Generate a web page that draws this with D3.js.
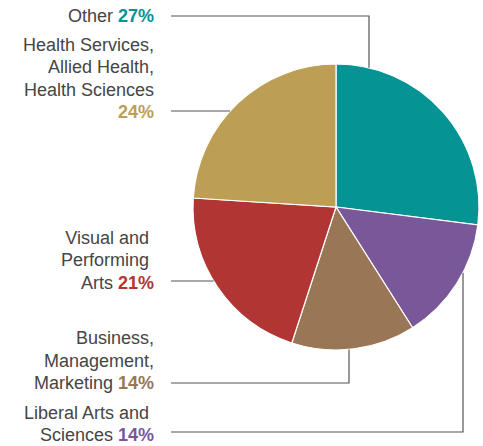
<!DOCTYPE html>
<html lang="en">
<head>
    <script src="https://d3js.org/d3.v7.min.js"></script>
    <title>Pie chart</title>
    <style>
        body { margin: 0; background: #fff; }
        text { font-family: "Liberation Sans", Arial, sans-serif; font-size: 18px; fill: #454545; white-space: pre; }
        .pct { font-weight: bold; }
    </style>
</head>
<body>
    <svg width="483" height="446"></svg>
    <script>
        // slices, clockwise from 12 o'clock
        var labels = [
            ["Other"],
            ["Liberal Arts and ", "Sciences"],
            ["Business,", "Management,", "Marketing"],
            ["Visual and ", "Performing ", "Arts"],
            ["Health Services,", "Allied Health,", "Health Sciences", ""]
        ];
        var values = [27, 14, 14, 21, 24];
        var colors = ["#059393", "#795799", "#997655", "#b03533", "#bd9e55"];

        var svg = d3.select("svg");
        var cx = 336, cy = 207, r = 143;

        var pie = d3.pie().sort(null).value(function (d) { return d; });
        var arc = d3.arc().innerRadius(0).outerRadius(r);
        var arcs = pie(values);

        var g = svg.append("g").attr("transform", "translate(" + cx + "," + cy + ")");
        g.selectAll("path")
            .data(arcs)
            .enter()
            .append("path")
            .attr("d", arc)
            .style("fill", function (d, i) { return colors[i]; })
            .style("stroke", "#fff")
            .style("stroke-width", 1.2);

        // label blocks: baseline of the last line, leader line y, where the line bends
        var textX = 154, lineH = 22.3;
        var layout = [
            { last: 22, ly: 16, bendX: 369 },
            { last: 441, ly: 432, bendX: 463 },
            { last: 389, ly: 383, bendX: 349 },
            { last: 288.5, ly: 281 },
            { last: 118, ly: 111 }
        ];

        // leader lines
        layout.forEach(function (L, i) {
            var pts;
            if (L.bendX !== undefined) {
                var dx = L.bendX - cx;
                var dy = Math.sqrt(r * r - dx * dx);
                var yEdge = L.ly < cy ? cy - dy : cy + dy;
                pts = [[textX + 17, L.ly], [L.bendX, L.ly], [L.bendX, yEdge]];
            } else {
                var ddy = L.ly - cy;
                var xEdge = cx - Math.sqrt(r * r - ddy * ddy);
                pts = [[textX + 17, L.ly], [xEdge, L.ly]];
            }
            svg.append("path")
                .attr("d", d3.line()(pts))
                .style("fill", "none")
                .style("stroke", "#555")
                .style("stroke-width", 1.2);
        });

        // label text
        labels.forEach(function (lines, i) {
            var L = layout[i];
            var t = svg.append("text")
                .attr("text-anchor", "end")
                .attr("x", textX)
                .attr("y", L.last - (lines.length - 1) * lineH);
            lines.forEach(function (s, j) {
                var ts = t.append("tspan")
                    .attr("x", textX)
                    .attr("dy", j === 0 ? 0 : lineH);
                var isLast = j === lines.length - 1;
                ts.append("tspan").text(isLast && s !== "" ? s + " " : s);
                if (isLast) {
                    ts.append("tspan")
                        .attr("class", "pct")
                        .style("fill", colors[i])
                        .text(values[i] + "%");
                }
            });
        });
    </script>
</body>
</html>
